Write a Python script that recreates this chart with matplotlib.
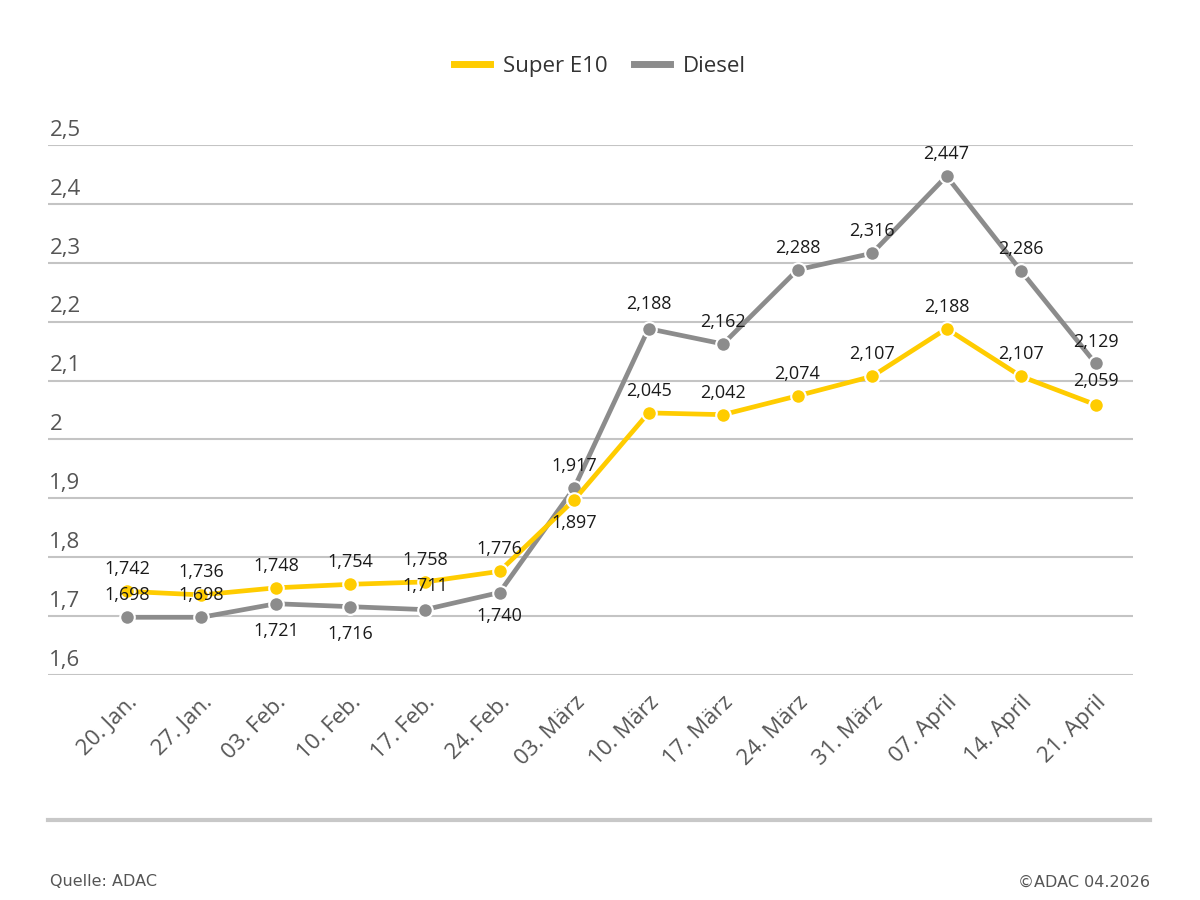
import matplotlib
matplotlib.use("Agg")
import matplotlib.pyplot as plt
from matplotlib.lines import Line2D

categories = ["20. Jan.", "27. Jan.", "03. Feb.", "10. Feb.", "17. Feb.", "24. Feb.",
              "03. März", "10. März", "17. März", "24. März", "31. März", "07. April",
              "14. April", "21. April"]
super_e10 = [1.742, 1.736, 1.748, 1.754, 1.758, 1.776, 1.897, 2.045, 2.042, 2.074,
             2.107, 2.188, 2.107, 2.059]
diesel = [1.698, 1.698, 1.721, 1.716, 1.711, 1.740, 1.917, 2.188, 2.162, 2.288,
          2.316, 2.447, 2.286, 2.129]
y_ticks = [1.6, 1.7, 1.8, 1.9, 2.0, 2.1, 2.2, 2.3, 2.4, 2.5]
y_tick_labels = ["1,6", "1,7", "1,8", "1,9", "2", "2,1", "2,2", "2,3", "2,4", "2,5"]

# label placement (pixel offsets, vertical)
e10_offsets = [22, 23, 22, 22, 22, 22, -23, 22, 22, 22, 22, 22, 22, 24]
diesel_offsets = [22, 22, -27, -27, 24, -23, 22, 25, 22, 22, 22, 22, 22, 21]

YELLOW = "#FFCC00"
GREY = "#8C8C8C"
TEXT = "#555555"

plt.rcParams['font.family'] = ['Open Sans', 'DejaVu Sans']

fig = plt.figure(figsize=(12, 9), dpi=100)
ax = fig.add_axes([0.04, 0.25, 0.904, 0.589])

x = list(range(len(categories)))
ax.plot(x, diesel, color=GREY, lw=3.4, marker='o', ms=10.5, mfc=GREY,
        mec='white', mew=1.5, zorder=3)
ax.plot(x, super_e10, color=YELLOW, lw=3.4, marker='o', ms=10.5, mfc=YELLOW,
        mec='white', mew=1.5, zorder=4)

def fmt(v):
    return f"{v:.3f}".replace(".", ",")

for xi, v, off in zip(x, super_e10, e10_offsets):
    ax.annotate(fmt(v), (xi, v), xytext=(0, off * 0.72), textcoords='offset points',
                ha='center', va='center', fontsize=13, color='#1a1a1a', zorder=6)
for xi, v, off in zip(x, diesel, diesel_offsets):
    ax.annotate(fmt(v), (xi, v), xytext=(0, off * 0.72), textcoords='offset points',
                ha='center', va='center', fontsize=13, color='#1a1a1a', zorder=6)

ax.set_xlim(-1.06, 13.5)
ax.set_ylim(1.6, 2.5)
ax.set_yticks(y_ticks)
ax.set_yticklabels([])
ax.tick_params(axis='y', length=0)
ax.yaxis.grid(True, color='#C4C4C4', lw=1.5)
ax.set_axisbelow(True)
for s in ax.spines.values():
    s.set_visible(False)

for yt, lab in zip(y_ticks, y_tick_labels):
    ax.annotate(lab, (-1.06, yt), xytext=(1, 3), textcoords='offset points',
                ha='left', va='bottom', fontsize=16, color=TEXT)

ax.set_xticks(x)
ax.set_xticklabels(categories, rotation=45, ha='right', rotation_mode='anchor',
                   fontsize=16, color=TEXT)
ax.tick_params(axis='x', length=0, pad=12)

handles = [Line2D([0], [0], color=YELLOW, lw=5), Line2D([0], [0], color=GREY, lw=5)]
fig.legend(handles, ["Super E10", "Diesel"], loc='center', bbox_to_anchor=(0.5, 0.926),
           ncol=2, frameon=False, fontsize=16, handlelength=1.6, columnspacing=1.2,
           handletextpad=0.6, labelcolor='#333333')

fig.add_artist(Line2D([0.04, 0.958], [0.089, 0.089], color='#C8C8C8', lw=3,
                      transform=fig.transFigure))
fig.text(0.042, 0.02, "Quelle: ADAC", fontsize=11.5, color=TEXT, ha='left', va='center',
         family=['Liberation Sans Narrow', 'DejaVu Sans'])
fig.text(0.958, 0.02, "©ADAC 04.2026", fontsize=11.5, color=TEXT, ha='right', va='center',
         family=['Liberation Sans Narrow', 'DejaVu Sans'])

fig.savefig("out.png", dpi=100, facecolor='white')
